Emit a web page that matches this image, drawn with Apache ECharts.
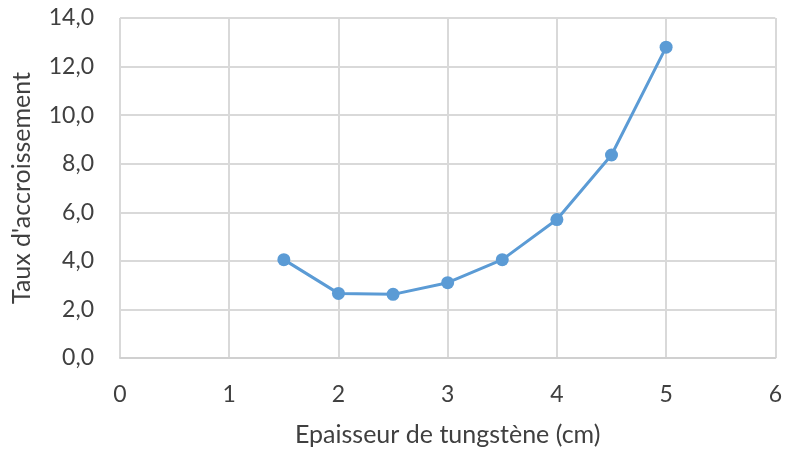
<!DOCTYPE html>
<html><head><meta charset="utf-8">
<script src="https://cdn.jsdelivr.net/npm/echarts@6/dist/echarts.min.js"></script>
<style>html,body{margin:0;padding:0;background:#fff}#c{width:785px;height:452px}</style>
</head><body><div id="c"></div>
<script>
const xValues = [1.5, 2, 2.5, 3, 3.5, 4, 4.5, 5];
const yValues = [4.05, 2.66, 2.62, 3.1, 4.05, 5.70, 8.36, 12.80];
const xTitle = "Epaisseur de tungstène (cm)";
const yTitle = "Taux d'accroissement";
const font = "Lato";
const textColor = "#404040";
const chart = echarts.init(document.getElementById('c'));
chart.setOption({
  animation: false,
  grid: {left: 120, right: 9, top: 18, bottom: 92},
  xAxis: {
    type: 'value', min: 0, max: 6, interval: 1,
    name: xTitle, nameLocation: 'middle', nameGap: 64,
    nameTextStyle: {fontFamily: font, fontSize: 25, color: textColor},
    axisLine: {show: true, lineStyle: {color: '#d0d0d0', width: 2}},
    axisTick: {show: false},
    axisLabel: {fontFamily: font, fontSize: 23, color: textColor, margin: 25},
    splitLine: {show: true, lineStyle: {color: '#d9d9d9', width: 2}}
  },
  yAxis: {
    type: 'value', min: 0, max: 14, interval: 2,
    name: yTitle, nameLocation: 'middle', nameGap: 86,
    nameTextStyle: {fontFamily: font, fontSize: 25, color: textColor},
    axisLine: {show: false}, axisTick: {show: false},
    axisLabel: {fontFamily: font, fontSize: 23, color: textColor, margin: 26,
      formatter: v => v.toFixed(1).replace('.', ',')},
    splitLine: {show: true, lineStyle: {color: '#d9d9d9', width: 2}}
  },
  series: [{
    type: 'line',
    data: xValues.map((x, i) => [x, yValues[i]]),
    symbol: 'circle', symbolSize: 13,
    lineStyle: {color: '#5b9bd5', width: 3},
    itemStyle: {color: '#5b9bd5'}
  }]
});
</script></body></html>
